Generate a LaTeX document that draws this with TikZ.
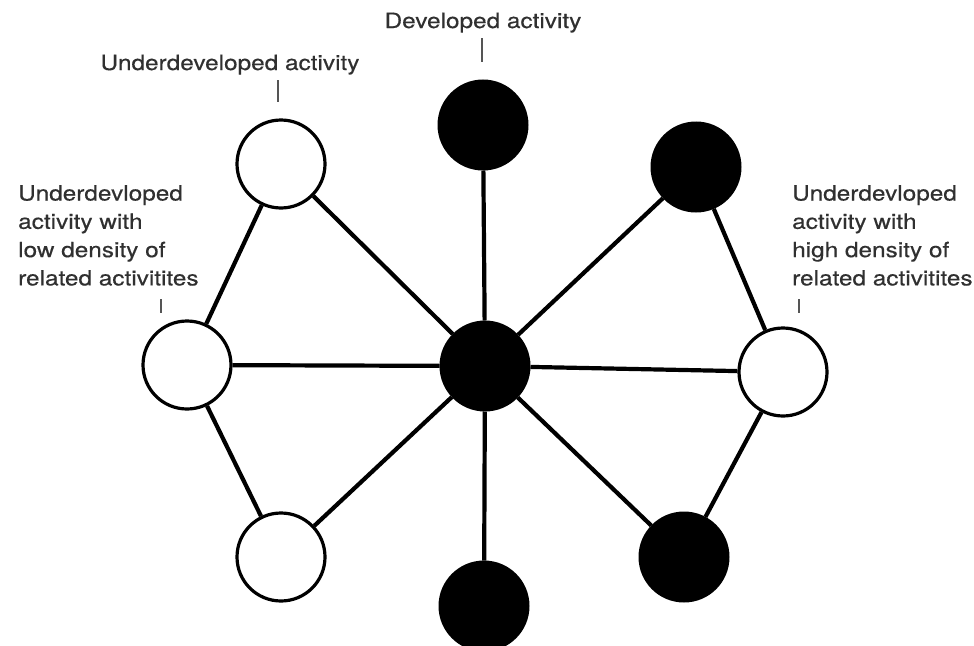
\documentclass[tikz,border=0pt]{standalone}
\usepackage{fontspec}
\setmainfont[FakeStretch=1.16,FakeBold=0.4]{TeX Gyre Heros}
\definecolor{txt}{HTML}{303030}
\definecolor{tick}{HTML}{555555}
\begin{document}
\begin{tikzpicture}[x=1pt,y=-1pt,
  dev/.style={circle,fill=black,draw=black,line width=3pt,minimum size=88pt,inner sep=0pt},
  und/.style={circle,fill=white,draw=black,line width=3.2pt,minimum size=88pt,inner sep=0pt},
  link/.style={line width=4.2pt,black},
  lbl/.style={text=txt,font=\fontsize{21}{28.3}\selectfont,inner sep=0pt},
  tickline/.style={draw=tick,line width=2pt}]
\useasboundingbox (0,0) rectangle (974,645);
\node[dev] (c) at (485,366) {};
\node[dev] (t) at (483,125) {};
\node[dev] (tr) at (696,167) {};
\node[und] (r) at (783,372) {};
\node[dev] (br) at (684,557) {};
\node[dev] (b) at (484,606) {};
\node[und] (bl) at (281,557) {};
\node[und] (l) at (187,365) {};
\node[und] (tl) at (281,164) {};
\foreach \n in {t,tr,r,br,b,bl,l,tl} \draw[link] (c) -- (\n);
\draw[link] (tl) -- (l);
\draw[link] (l) -- (bl);
\draw[link] (tr) -- (r);
\draw[link] (r) -- (br);
\node[lbl,anchor=base] (devlbl) at (483,28) {Developed activity};
\node[lbl,anchor=base] (undlbl) at (230,70) {Underdeveloped activity};
\node[lbl,anchor=north west,align=left] (lowlbl) at (18,185) {Underdevloped\\activity with\\low density of\\related activitites};
\node[lbl,anchor=north west,align=left] (highlbl) at (792,185) {Underdevloped\\activity with\\high density of\\related activitites};
\coordinate (dt1) at (482,38); \coordinate (dt2) at (482,62);
\coordinate (ut1) at (278,80); \coordinate (ut2) at (278,102);
\coordinate (lt1) at (161,299); \coordinate (lt2) at (161,313);
\coordinate (rt1) at (799,299); \coordinate (rt2) at (799,313);
\draw[tickline] (dt1) -- (dt2);
\draw[tickline] (ut1) -- (ut2);
\draw[tickline] (lt1) -- (lt2);
\draw[tickline] (rt1) -- (rt2);
\end{tikzpicture}
\end{document}
